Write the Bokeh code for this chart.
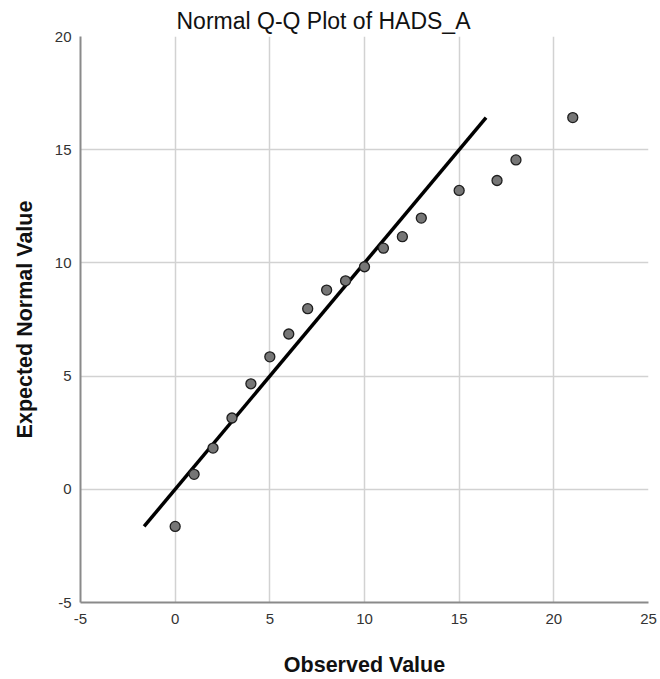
from bokeh.plotting import figure
from bokeh.models import Range1d, FixedTicker
from bokeh.embed import file_html
from bokeh.resources import INLINE

observed = [0, 1, 2, 3, 4, 5, 6, 7, 8, 9, 10, 11, 12, 13, 15, 17, 18, 21]
expected = [-1.64, 0.66, 1.82, 3.15, 4.66, 5.85, 6.86, 7.98, 8.80, 9.21, 9.83,
            10.65, 11.16, 11.98, 13.20, 13.64, 14.55, 16.42]
x_ticks = [-5, 0, 5, 10, 15, 20, 25]
y_ticks = [-5, 0, 5, 10, 15, 20]

ref = [min(expected), max(expected)]

FONT = "Liberation Sans"

p = figure(width=660, height=679, output_backend="svg", toolbar_location=None,
           x_range=Range1d(-5, 25), y_range=Range1d(-5, 20),
           min_border_left=80, min_border_right=12, min_border_top=36, min_border_bottom=76)

p.title.text = "Normal Q-Q Plot of HADS_A"
p.title.align = "left"
p.title.text_font = FONT
p.title.text_font_size = "23px"
p.title.text_font_style = "normal"
p.title.text_color = "#111111"
p.title.offset = 96
p.title.standoff = 6

p.outline_line_color = None
p.background_fill_color = "white"

for ax, ticks in ((p.xaxis[0], x_ticks), (p.yaxis[0], y_ticks)):
    ax.ticker = FixedTicker(ticks=ticks)
    ax.major_label_overrides = {t: str(t) for t in ticks}
    ax.minor_tick_line_color = None
    ax.major_tick_line_color = None
    ax.major_tick_out = 0
    ax.major_tick_in = 0
    ax.axis_line_color = "#8a8a8a"
    ax.axis_line_width = 2
    ax.major_label_text_font = FONT
    ax.major_label_text_font_size = "15px"
    ax.major_label_text_color = "#333333"
    ax.axis_label_text_font = FONT
    ax.axis_label_text_font_size = "21.5px"
    ax.axis_label_text_font_style = "bold"
    ax.axis_label_text_color = "#111111"

p.xaxis.axis_label = "Observed Value"
p.yaxis.axis_label = "Expected Normal Value"
p.xaxis.major_label_standoff = 11
p.yaxis.major_label_standoff = 9
p.xaxis.axis_label_standoff = 26
p.yaxis.axis_label_standoff = 15

p.xgrid.ticker = FixedTicker(ticks=x_ticks)
p.ygrid.ticker = FixedTicker(ticks=y_ticks)
for g in (p.xgrid[0], p.ygrid[0]):
    g.grid_line_color = "#d2d2d2"
    g.grid_line_width = 1.5

p.line(ref, ref, line_color="black", line_width=3.5)
p.scatter(observed, expected, size=10, fill_color="#767676", line_color="#1e1e1e", line_width=1.3)

open("out.html", "w").write(file_html(p, INLINE))
